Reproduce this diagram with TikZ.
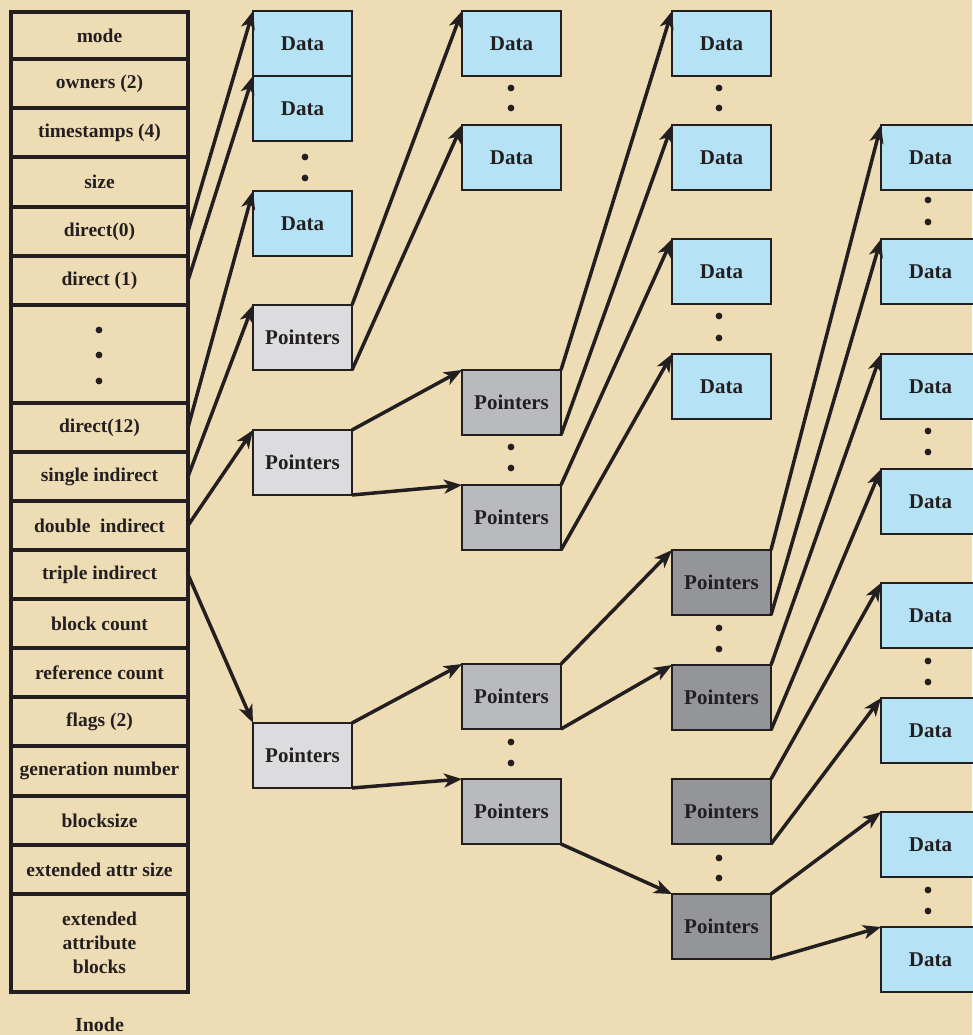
\documentclass[tikz,border=0pt]{standalone}
\usepackage{fontspec}
\setmainfont{Liberation Serif}
\usetikzlibrary{arrows.meta}
\definecolor{bg}{RGB}{238,221,180}
\definecolor{ink}{RGB}{35,31,32}
\definecolor{datafill}{RGB}{182,226,246}
\definecolor{pA}{RGB}{220,220,222}
\definecolor{pB}{RGB}{185,186,190}
\definecolor{pC}{RGB}{148,149,153}
\begin{document}
\begin{tikzpicture}[x=1pt,y=-1pt,
  box/.style={draw=ink, line width=1.8pt, minimum width=99pt, minimum height=65pt, inner sep=0pt, outer sep=0pt, anchor=north west, text=ink, font=\fontsize{21}{24}\selectfont\bfseries},
  data/.style={box, fill=datafill},
  ptra/.style={box, fill=pA},
  ptrb/.style={box, fill=pB},
  ptrc/.style={box, fill=pC},
  cell/.style={draw=ink, line width=3.4pt, minimum width=177pt, inner sep=0pt, outer sep=0pt, text=ink, align=center, font=\fontsize{19.5}{24}\selectfont\bfseries},
  arr/.style={draw=ink, line width=3.5pt, -{Stealth[length=18pt,width=14pt,inset=5pt]}},
  dot/.style={fill=ink}
]
\fill[bg] (0,0) rectangle (972,1035);
\useasboundingbox (0,0) rectangle (972,1035);

% Inode cells
\node[cell, minimum height=47pt] (mode) at (99.5,35.5) {mode};
\node[cell, minimum height=49pt] (own) at (99.5,83.5) {owners (2)};
\node[cell, minimum height=49pt] (ts) at (99.5,132.5) {timestamps (4)};
\node[cell, minimum height=50pt] (size) at (99.5,182) {size};
\node[cell, minimum height=49pt] (d0) at (99.5,231.5) {direct(0)};
\node[cell, minimum height=49pt] (d1) at (99.5,280.5) {direct (1)};
\node[cell, minimum height=98pt] (ddots) at (99.5,354) {};
\node[cell, minimum height=49pt] (d12) at (99.5,427.5) {direct(12)};
\node[cell, minimum height=49pt] (si) at (99.5,476.5) {single indirect};
\node[cell, minimum height=49pt] (di) at (99.5,525.5) {double\ \ indirect};
\node[cell, minimum height=49pt] (ti) at (99.5,574.5) {triple indirect};
\node[cell, minimum height=49pt] (bc) at (99.5,623.5) {block count};
\node[cell, minimum height=49pt] (rc) at (99.5,672.5) {reference count};
\node[cell, minimum height=49pt] (fl) at (99.5,721.5) {flags (2)};
\node[cell, minimum height=50pt] (gn) at (99.5,771) {generation number};
\node[cell, minimum height=49pt] (bs) at (99.5,820.5) {blocksize};
\node[cell, minimum height=49pt] (eas) at (99.5,869.5) {extended attr size};
\node[cell, minimum height=98pt] (eab) at (99.5,943) {extended\\attribute\\blocks};
\node[text=ink, font=\fontsize{20}{24}\selectfont\bfseries] (inode) at (99.5,1025) {Inode};
\fill[dot] (99,330) circle (3.4pt) (99,355) circle (3.4pt) (99,381) circle (3.4pt);

% Column 1
\node[data] (a1) at (253,11) {Data};
\node[data] (a2) at (253,76) {Data};
\node[data] (a3) at (253,191) {Data};
\node[ptra] (ps) at (253,305) {Pointers};
\node[ptra] (pd) at (253,430) {Pointers};
\node[ptra] (pt) at (253,723) {Pointers};
\fill[dot] (305,157) circle (3.4pt) (305,178) circle (3.4pt);

% Column 2
\node[data] (b1) at (462,11) {Data};
\node[data] (b2) at (462,125) {Data};
\node[ptrb] (pdA) at (462,370) {Pointers};
\node[ptrb] (pdB) at (462,485) {Pointers};
\node[ptrb] (ptA) at (462,664) {Pointers};
\node[ptrb] (ptB) at (462,779) {Pointers};
\fill[dot] (511,88) circle (3.4pt) (511,108) circle (3.4pt);
\fill[dot] (511,447) circle (3.4pt) (511,468) circle (3.4pt);
\fill[dot] (511,742) circle (3.4pt) (511,763) circle (3.4pt);

% Column 3
\node[data] (c1) at (672,11) {Data};
\node[data] (c2) at (672,125) {Data};
\node[data] (c3) at (672,239) {Data};
\node[data] (c4) at (672,354) {Data};
\node[ptrc] (pe) at (672,550) {Pointers};
\node[ptrc] (pf) at (672,665) {Pointers};
\node[ptrc] (pg) at (672,779) {Pointers};
\node[ptrc] (ph) at (672,894) {Pointers};
\fill[dot] (719,88) circle (3.4pt) (719,108) circle (3.4pt);
\fill[dot] (719,316) circle (3.4pt) (719,338) circle (3.4pt);
\fill[dot] (719,628) circle (3.4pt) (719,649) circle (3.4pt);
\fill[dot] (719,858) circle (3.4pt) (719,878) circle (3.4pt);

% Column 4
\node[data] (e1) at (881,125) {Data};
\node[data] (e2) at (881,239) {Data};
\node[data] (e3) at (881,354) {Data};
\node[data] (e4) at (881,469) {Data};
\node[data] (e5) at (881,583) {Data};
\node[data] (e6) at (881,698) {Data};
\node[data] (e7) at (881,812) {Data};
\node[data] (e8) at (881,927) {Data};
\fill[dot] (928,200) circle (3.4pt) (928,222) circle (3.4pt);
\fill[dot] (928,431) circle (3.4pt) (928,452) circle (3.4pt);
\fill[dot] (928,661) circle (3.4pt) (928,682) circle (3.4pt);
\fill[dot] (928,890) circle (3.4pt) (928,911) circle (3.4pt);

% Arrows from inode
\draw[arr] (d0.east) -- (a1.north west);
\draw[arr] (d1.east) -- (a2.north west);
\draw[arr] (d12.east) -- (a3.north west);
\draw[arr] (si.east) -- (ps.north west);
\draw[arr] (di.east) -- (pd.north west);
\draw[arr] (ti.east) -- (pt.north west);

% Single indirect
\draw[arr] (ps.north east) -- (b1.north west);
\draw[arr] (ps.south east) -- (b2.north west);

% Double indirect
\draw[arr] (pd.north east) -- (pdA.north west);
\draw[arr] (pd.south east) -- (pdB.north west);
\draw[arr] (pdA.north east) -- (c1.north west);
\draw[arr] (pdA.south east) -- (c2.north west);
\draw[arr] (pdB.north east) -- (c3.north west);
\draw[arr] (pdB.south east) -- (c4.north west);

% Triple indirect
\draw[arr] (pt.north east) -- (ptA.north west);
\draw[arr] (pt.south east) -- (ptB.north west);
\draw[arr] (ptA.north east) -- (pe.north west);
\draw[arr] (ptA.south east) -- (pf.north west);
\draw[arr] (ptB.south east) -- (ph.north west);
\draw[arr] (pe.north east) -- (e1.north west);
\draw[arr] (pe.south east) -- (e2.north west);
\draw[arr] (pf.north east) -- (e3.north west);
\draw[arr] (pf.south east) -- (e4.north west);
\draw[arr] (pg.north east) -- (e5.north west);
\draw[arr] (pg.south east) -- (e6.north west);
\draw[arr] (ph.north east) -- (e7.north west);
\draw[arr] (ph.south east) -- (e8.north west);
\end{tikzpicture}
\end{document}
